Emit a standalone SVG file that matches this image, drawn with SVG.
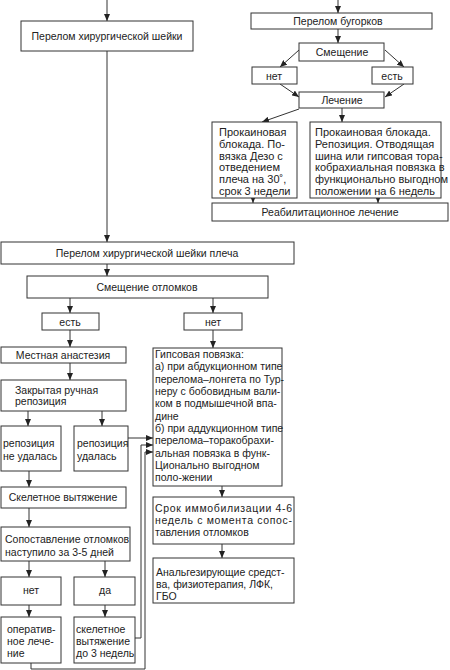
<svg xmlns="http://www.w3.org/2000/svg" width="450" height="670" viewBox="0 0 450 670">
<style>
.b{fill:#fff;stroke:#333;stroke-width:1}
.t{font-family:"Liberation Sans",Arial,sans-serif;font-size:10.5px;fill:#222}
.p{font-size:11px}
.c{text-anchor:middle}
.l{fill:none;stroke:#333;stroke-width:1}
.a{fill:none;stroke:#333;stroke-width:1;marker-end:url(#ah)}
</style>
<defs>
<marker id="ah" markerUnits="userSpaceOnUse" markerWidth="8" markerHeight="6" refX="7" refY="3" orient="auto">
<path d="M0,0 L7,3 L0,6 z" fill="#222"/>
</marker>
</defs>
<rect width="450" height="670" fill="#fff"/>
<g id="connectors">
<line class="a" x1="107" y1="0" x2="107" y2="21"/>
<line class="a" x1="107" y1="51" x2="107" y2="242"/>
<line class="a" x1="107" y1="264" x2="107" y2="276"/>
<line class="a" x1="70" y1="298" x2="70" y2="313"/>
<line class="a" x1="213" y1="298" x2="213" y2="313"/>
<line class="a" x1="70" y1="330" x2="70" y2="347"/>
<line class="a" x1="70" y1="363" x2="70" y2="380"/>
<line class="a" x1="28" y1="411" x2="28" y2="426"/>
<line class="a" x1="102" y1="411" x2="102" y2="426"/>
<line class="a" x1="128" y1="438" x2="153" y2="438"/>
<line class="a" x1="29" y1="471" x2="29" y2="487"/>
<line class="a" x1="29" y1="508" x2="29" y2="527"/>
<line class="a" x1="29" y1="561" x2="29" y2="577"/>
<line class="a" x1="105" y1="561" x2="105" y2="577"/>
<line class="a" x1="29" y1="605" x2="29" y2="617"/>
<line class="a" x1="105" y1="605" x2="105" y2="617"/>
<polyline class="a" points="135,638 141,638 141,445 153,445"/>
<polyline class="a" points="31,663 31,669 145,669 145,452 153,452"/>
<line class="a" x1="213" y1="330" x2="213" y2="348"/>
<line class="a" x1="222" y1="486" x2="222" y2="497"/>
<line class="a" x1="222" y1="544" x2="222" y2="558"/>
<line class="a" x1="338" y1="0" x2="338" y2="13"/>
<line class="a" x1="338" y1="29" x2="338" y2="43"/>
<line class="a" x1="299" y1="50" x2="280" y2="67"/>
<line class="a" x1="385" y1="50" x2="404" y2="67"/>
<line class="a" x1="280" y1="84" x2="299" y2="97"/>
<line class="a" x1="404" y1="84" x2="385" y2="97"/>
<line class="a" x1="299" y1="109" x2="262" y2="122"/>
<line class="a" x1="342" y1="108" x2="342" y2="122"/>
<line class="a" x1="253" y1="198" x2="253" y2="203"/>
<line class="a" x1="378" y1="198" x2="378" y2="203"/>
</g>
<g id="n_top_left">
<rect class="b" x="21" y="21" width="172" height="30"/>
<text class="t c" x="107" y="40">Перелом хирургической шейки</text>
</g>
<g id="n_bugorki">
<rect class="b" x="251" y="13" width="181" height="16"/>
<text class="t c" x="338" y="25">Перелом бугорков</text>
</g>
<g id="n_smeshchenie">
<rect class="b" x="299" y="43" width="85" height="18"/>
<text class="t c" x="342" y="56">Смещение</text>
</g>
<g id="n_net_top">
<rect class="b" x="252" y="67" width="45" height="17"/>
<text class="t c" x="274" y="80">нет</text>
</g>
<g id="n_est_top">
<rect class="b" x="372" y="67" width="41" height="17"/>
<text class="t c" x="392" y="80">есть</text>
</g>
<g id="n_lechenie">
<rect class="b" x="299" y="92" width="85" height="16"/>
<text class="t c" x="342" y="104">Лечение</text>
</g>
<g id="n_prok_left">
<rect class="b" x="212" y="122" width="85" height="76"/>
<text class="t p" x="219" y="136">Прокаиновая</text>
<text class="t p" x="219" y="148">блокада. По-</text>
<text class="t p" x="219" y="160">вязка Дезо с</text>
<text class="t p" x="219" y="171">отведением</text>
<text class="t p" x="219" y="183">плеча на 30˚,</text>
<text class="t p" x="219" y="195">срок 3 недели</text>
</g>
<g id="n_prok_right">
<rect class="b" x="310" y="122" width="131" height="76"/>
<text class="t p" x="315" y="136">Прокаиновая блокада.</text>
<text class="t p" x="315" y="148">Репозиция. Отводящая</text>
<text class="t p" x="315" y="160">шина или гипсовая тора-</text>
<text class="t p" x="315" y="171">кобрахиальная повязка в</text>
<text class="t p" x="315" y="183">функционально выгодном</text>
<text class="t p" x="315" y="195">положении на 6 недель</text>
</g>
<g id="n_reab">
<rect class="b" x="212" y="203" width="236" height="18"/>
<text class="t c" x="330" y="216">Реабилитационное лечение</text>
</g>
<g id="n_plecha">
<rect class="b" x="1" y="242" width="293" height="22"/>
<text class="t c" x="147" y="257">Перелом хирургической шейки плеча</text>
</g>
<g id="n_otlomki">
<rect class="b" x="27" y="276" width="241" height="22"/>
<text class="t c" x="147" y="291">Смещение отломков</text>
</g>
<g id="n_est">
<rect class="b" x="42" y="313" width="57" height="17"/>
<text class="t c" x="70" y="326">есть</text>
</g>
<g id="n_net">
<rect class="b" x="184" y="313" width="58" height="17"/>
<text class="t c" x="213" y="326">нет</text>
</g>
<g id="n_anest">
<rect class="b" x="1" y="347" width="125" height="16"/>
<text class="t c" x="63" y="359">Местная анастезия</text>
</g>
<g id="n_zakr">
<rect class="b" x="1" y="380" width="125" height="31"/>
<text class="t" x="15" y="394">Закрытая ручная</text>
<text class="t" x="15" y="405">репозиция</text>
</g>
<g id="n_ne_udalas">
<rect class="b" x="1" y="426" width="60" height="45"/>
<text class="t" x="3" y="447">репозиция</text>
<text class="t" x="3" y="460">не удалась</text>
</g>
<g id="n_udalas">
<rect class="b" x="74" y="426" width="54" height="45"/>
<text class="t" x="77" y="447">репозиция</text>
<text class="t" x="77" y="460">удалась</text>
</g>
<g id="n_skelet">
<rect class="b" x="1" y="487" width="125" height="21"/>
<text class="t c" x="63" y="501">Скелетное вытяжение</text>
</g>
<g id="n_sopost">
<rect class="b" x="1" y="527" width="129" height="34"/>
<text class="t" x="5" y="543">Сопоставление отломков</text>
<text class="t" x="5" y="556">наступило за 3-5 дней</text>
</g>
<g id="n_net2">
<rect class="b" x="1" y="577" width="60" height="28"/>
<text class="t c" x="31" y="594">нет</text>
</g>
<g id="n_da">
<rect class="b" x="74" y="577" width="61" height="28"/>
<text class="t c" x="105" y="594">да</text>
</g>
<g id="n_oper">
<rect class="b" x="1" y="617" width="60" height="46"/>
<text class="t" x="7" y="633">оператив-</text>
<text class="t" x="7" y="645">ное лече-</text>
<text class="t" x="7" y="657">ние</text>
</g>
<g id="n_skelet3">
<rect class="b" x="74" y="617" width="61" height="46"/>
<text class="t" x="76" y="633">скелетное</text>
<text class="t" x="76" y="645">вытяжение</text>
<text class="t" x="76" y="657">до 3 недель</text>
</g>
<g id="n_gips">
<rect class="b" x="153" y="348" width="129" height="138"/>
<text class="t" x="155" y="358">Гипсовая повязка:</text>
<text class="t" x="155" y="370">а) при абдукционном типе</text>
<text class="t" x="155" y="383">перелома–лонгета по Тур-</text>
<text class="t" x="155" y="395">неру с бобовидным вали-</text>
<text class="t" x="155" y="407">ком в подмышечной впа-</text>
<text class="t" x="155" y="420">дине</text>
<text class="t" x="155" y="432">б) при аддукционном типе</text>
<text class="t" x="155" y="444">перелома–торакобрахи-</text>
<text class="t" x="155" y="457">альная повязка в функ-</text>
<text class="t" x="155" y="469">Ционально выгодном</text>
<text class="t" x="155" y="481">поло-жении</text>
</g>
<g id="n_srok">
<rect class="b" x="153" y="497" width="141" height="47"/>
<text class="t" x="155" y="512" textLength="137" lengthAdjust="spacing">Срок иммобилизации 4-6</text>
<text class="t" x="155" y="524" textLength="137" lengthAdjust="spacing">недель с момента сопос-</text>
<text class="t" x="155" y="536">тавления отломков</text>
</g>
<g id="n_analg">
<rect class="b" x="153" y="558" width="141" height="45"/>
<text class="t" x="156" y="576">Анальгезирующие средст-</text>
<text class="t" x="156" y="588">ва, физиотерапия, ЛФК,</text>
<text class="t" x="156" y="600">ГБО</text>
</g>
</svg>
